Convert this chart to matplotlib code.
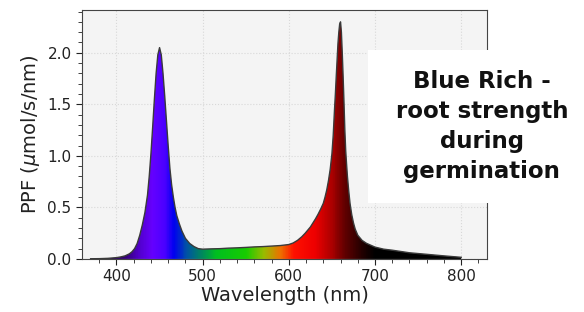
import numpy as np
import matplotlib
matplotlib.use("Agg")
import matplotlib.pyplot as plt
from matplotlib.colors import LinearSegmentedColormap
from matplotlib.patches import Rectangle

# spectrum (nm, umol/s/nm)
wavelength = [370, 380, 390, 400, 405, 410, 415, 418, 421, 424, 427, 430, 433, 436, 438,
              440, 442, 444, 446, 448, 450, 452, 454, 456, 458, 460, 462, 464, 466,
              468, 470, 473, 476, 480, 485, 490, 495, 500, 510, 520, 530, 540, 550,
              560, 570, 580, 590, 600, 605, 610, 615, 619, 622, 625, 628, 631, 634,
              637, 640, 642, 644, 646, 648, 650, 651.5, 653, 654, 655, 656, 657, 658,
              659, 660, 661, 662, 663, 664, 665, 666, 667, 668, 669.5, 671, 673, 675,
              677, 680, 685, 690, 700, 710, 720, 740, 760, 780, 800]
ppf = [0.002, 0.003, 0.006, 0.013, 0.02, 0.03, 0.05, 0.07, 0.1, 0.15, 0.23, 0.33, 0.45, 0.62, 0.8,
       1.02, 1.28, 1.55, 1.8, 1.98, 2.05, 1.98, 1.8, 1.58, 1.34, 1.1, 0.88, 0.72, 0.6,
       0.5, 0.42, 0.34, 0.27, 0.2, 0.15, 0.12, 0.1, 0.095, 0.098, 0.1, 0.105, 0.108, 0.112,
       0.117, 0.12, 0.125, 0.13, 0.14, 0.155, 0.18, 0.215, 0.25, 0.28, 0.31, 0.35, 0.39, 0.435,
       0.485, 0.54, 0.6, 0.67, 0.76, 0.87, 1.02, 1.2, 1.45, 1.6, 1.77, 1.93, 2.09, 2.2,
       2.28, 2.30, 2.2, 2.0, 1.77, 1.52, 1.25, 1.05, 0.92, 0.8, 0.66, 0.54, 0.43, 0.35,
       0.29, 0.23, 0.18, 0.152, 0.115, 0.095, 0.085, 0.06, 0.045, 0.03, 0.016]

label_text = "Blue Rich -\nroot strength\nduring\ngermination"

# colour of the fill along the wavelength axis
stops = [(370, "#1a0030"), (410, "#35007a"), (425, "#5200cc"), (440, "#6600ff"),
         (455, "#4a00ff"), (465, "#0000f0"), (480, "#0050a8"), (495, "#008068"),
         (515, "#00bf20"), (550, "#18cc00"), (570, "#99bb00"), (590, "#ee7000"),
         (605, "#ff1000"), (630, "#ee0000"), (650, "#a80000"), (665, "#600000"),
         (685, "#200000"), (700, "#000000"), (830, "#000000")]
lo, hi = 370, 830
cmap = LinearSegmentedColormap.from_list(
    "spec", [((w - lo) / (hi - lo), c) for w, c in stops])

fig = plt.figure(figsize=(5.84, 3.12), dpi=100)
ax = fig.add_axes([0.1404, 0.170, 0.6936, 0.798])
ax.set_facecolor("#f4f4f4")

x = np.array(wavelength)
y = np.array(ppf)
ymax = 1.05 * y.max()

poly = ax.fill_between(x, y, 0, color="none")
grad = np.linspace(lo, hi, 500).reshape(1, -1)
img = ax.imshow(grad, cmap=cmap, aspect="auto", extent=(lo, hi, 0, ymax),
                origin="lower", zorder=2)
img.set_clip_path(poly.get_paths()[0], transform=ax.transData)
ax.plot(x, y, color="#3a3a3a", lw=1.0, zorder=3)

ax.set_xlim(360, 830)
ax.set_ylim(0, ymax)
ax.set_xticks([400, 500, 600, 700, 800])
ax.set_xticks(np.arange(380, 830, 20), minor=True)
ax.set_yticks([0.0, 0.5, 1.0, 1.5, 2.0])
ax.set_yticks(np.arange(0, 2.45, 0.1), minor=True)
ax.yaxis.set_major_formatter(matplotlib.ticker.FormatStrFormatter("%.1f"))
ax.tick_params(which="both", direction="out", labelsize=11, colors="#222222")
ax.tick_params(which="major", length=4)
ax.tick_params(which="minor", length=3)
ax.grid(which="major", color="#d8d8d8", linestyle=":", lw=0.8, zorder=0)
ax.set_axisbelow(True)
for s in ax.spines.values():
    s.set_color("#444444")

ax.set_xlabel("Wavelength (nm)", fontsize=14, color="#222222", labelpad=1)
ax.set_ylabel(r"PPF ($\mu$mol/s/nm)", fontsize=14, color="#222222", labelpad=4)

# white label box over the right side
fig.patches.append(Rectangle((0.630, 0.349), 0.40, 0.490, transform=fig.transFigure,
                             facecolor="white", edgecolor="none", zorder=5))
fig.text(0.825, 0.595, label_text, ha="center", va="center", fontsize=16.5,
         fontweight="bold", color="#111111", linespacing=1.4, zorder=6)

fig.savefig("out.png", dpi=100)
